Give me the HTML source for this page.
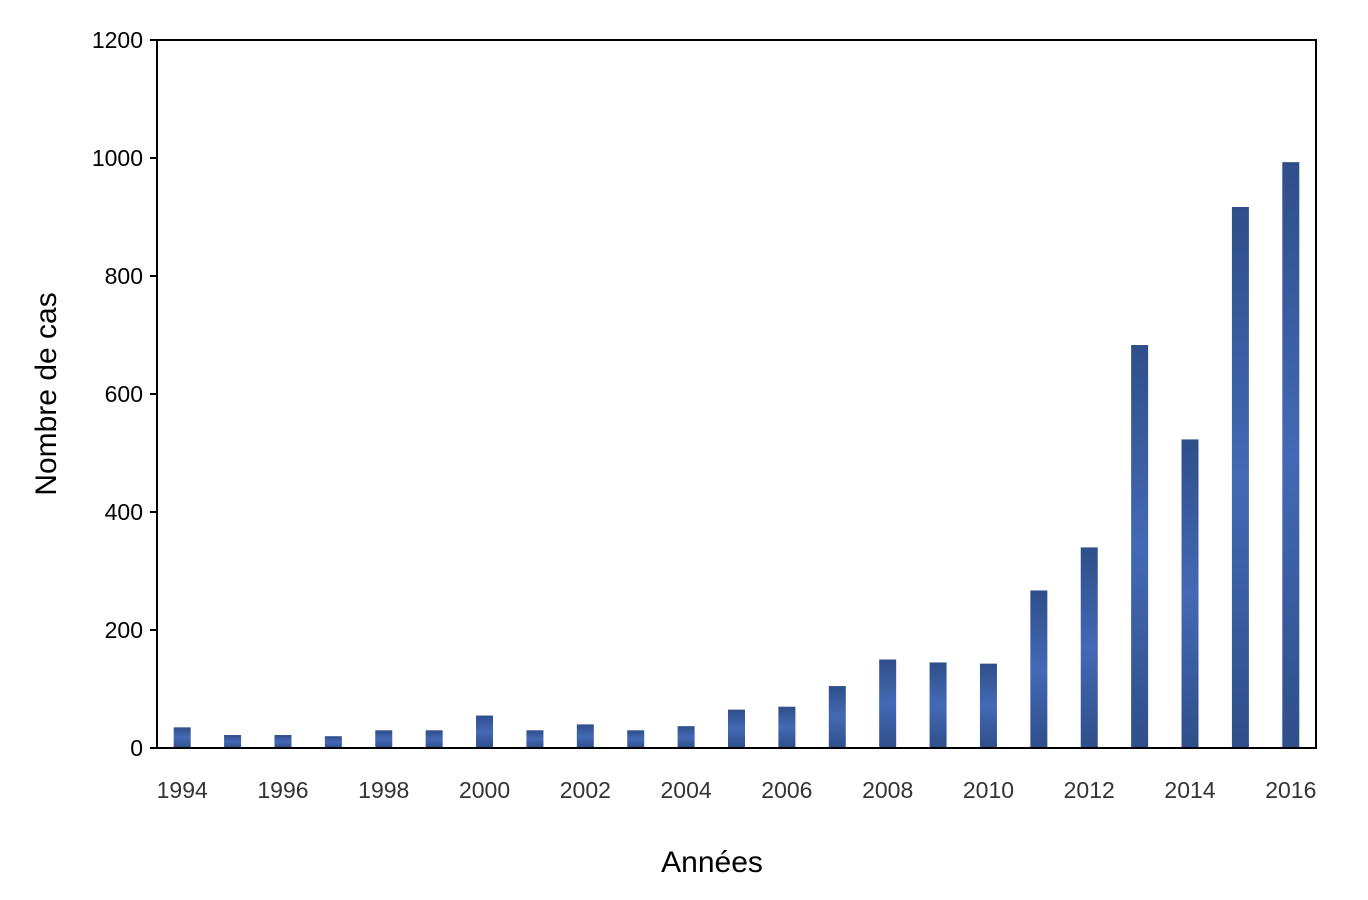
<!DOCTYPE html>
<html><head><meta charset="utf-8"><style>
html,body{margin:0;padding:0;background:#fff;}
svg{display:block;font-family:"Liberation Sans",Arial,sans-serif;}
</style></head><body>
<svg id="chart" width="1368" height="900" viewBox="0 0 1368 900">
<defs>
<linearGradient id="bg" x1="0" y1="0" x2="0" y2="1">
<stop offset="0" stop-color="#2f4f8a"/>
<stop offset="0.5" stop-color="#4469b5"/>
<stop offset="1" stop-color="#2f4f8a"/>
</linearGradient>
</defs>
<g id="bars"></g>
<g id="yticks"></g>
<g id="xticks"></g>
<rect x="157" y="40" width="1159" height="708" fill="none" stroke="#000" stroke-width="2"/>
<text x="712" y="872" font-size="30" text-anchor="middle">Années</text>
<text transform="translate(56,394) rotate(-90)" font-size="30" text-anchor="middle">Nombre de cas</text>
</svg>
<script>
const years=[1994,1995,1996,1997,1998,1999,2000,2001,2002,2003,2004,2005,2006,2007,2008,2009,2010,2011,2012,2013,2014,2015,2016];
const cases=[35,22,22,20,30,30,55,30,40,30,37,65,70,105,150,145,143,267,340,683,523,917,993];
const yTickLabels=[0,200,400,600,800,1000,1200];
const xTickLabels=[1994,1996,1998,2000,2002,2004,2006,2008,2010,2012,2014,2016];
const NS="http://www.w3.org/2000/svg";
const x0=157,x1=1316,y0=748,y1=40,yMax=1200;
const step=(x1-x0)/years.length;
function xScale(i){return x0+step*(i+0.5);}
function yScale(v){return y0-(v/yMax)*(y0-y1);}
const bars=document.getElementById('bars');
years.forEach((yr,i)=>{
 const r=document.createElementNS(NS,'rect');
 const w=17;
 r.setAttribute('x',xScale(i)-w/2);
 r.setAttribute('y',yScale(cases[i]));
 r.setAttribute('width',w);
 r.setAttribute('height',y0-yScale(cases[i]));
 r.setAttribute('fill','url(#bg)');
 
 
 bars.appendChild(r);
});
const yt=document.getElementById('yticks');
yTickLabels.forEach(v=>{
 const y=yScale(v);
 const l=document.createElementNS(NS,'line');
 l.setAttribute('x1',x0-7);l.setAttribute('x2',x0);l.setAttribute('y1',y);l.setAttribute('y2',y);
 l.setAttribute('stroke','#000');l.setAttribute('stroke-width','2');
 
 
 yt.appendChild(l);
 const t=document.createElementNS(NS,'text');
 t.setAttribute('x',x0-14);t.setAttribute('y',y+8);
 t.setAttribute('font-size','23');t.setAttribute('text-anchor','end');
 t.textContent=v;
 
 
 yt.appendChild(t);
});
const xt=document.getElementById('xticks');
xTickLabels.forEach(yr=>{
 const i=years.indexOf(yr);
 const t=document.createElementNS(NS,'text');
 t.setAttribute('x',xScale(i));t.setAttribute('y',798);
 t.setAttribute('font-size','23');t.setAttribute('text-anchor','middle');
 t.setAttribute('fill','#333');
 t.textContent=yr;
 
 
 xt.appendChild(t);
});
</script>
</body></html>
